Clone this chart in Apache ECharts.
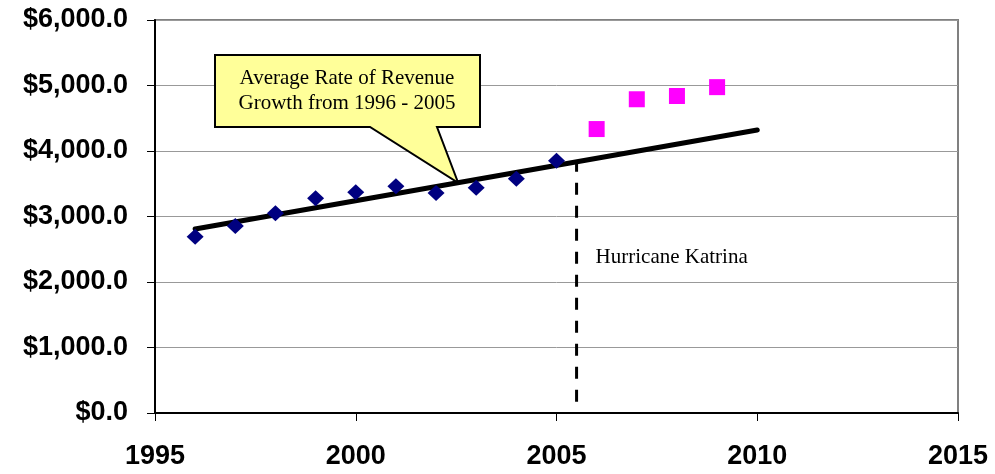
<!DOCTYPE html>
<html>
<head>
<meta charset="utf-8">
<script src="https://cdn.jsdelivr.net/npm/echarts@6/dist/echarts.min.js"></script>
<style>
  html, body { margin: 0; padding: 0; background: #fff; }
  #chart { width: 995px; height: 474px; }
</style>
</head>
<body>
<div id="chart"></div>
<script>
// actual revenue 1996 - 2005
const actualYears = [1996, 1997, 1998, 1999, 2000, 2001, 2002, 2003, 2004, 2005]
const actualValues = [2690, 2855, 3050, 3280, 3370, 3460, 3360, 3440, 3575, 3850]

// after Katrina
const postYears = [2006, 2007, 2008, 2009]
const postValues = [4335, 4790, 4840, 4975]

// average growth trend line
const trendYears = [1996, 2010]
const trendValues = [2810, 4320]

// hurricane marker
const katrinaYear = 2005.5
const katrinaBottom = 170
const katrinaTop = 3835
const calloutYear = 2002.55
const calloutValue = 3515

const chart = echarts.init(document.getElementById('chart'))

const option = {
  animation: false,
  grid: {
    left: 155, right: 37, top: 20, bottom: 61,
    show: true, borderColor: '#808080', borderWidth: 2
  },
  xAxis: {
    type: 'value',
    min: 1995, max: 2015, interval: 5,
    axisLine: { lineStyle: { color: '#000', width: 2 } },
    axisTick: { show: true, length: 8, lineStyle: { color: '#000', width: 1 } },
    splitLine: { show: false },
    axisLabel: {
      color: '#000', fontFamily: 'Liberation Sans, Arial', fontWeight: 'bold',
      fontSize: 27, margin: 30,
      formatter: v => String(v)
    }
  },
  yAxis: {
    type: 'value',
    min: 0, max: 6000, interval: 1000,
    axisLine: { show: true, lineStyle: { color: '#000', width: 2 } },
    axisTick: { show: true, length: 8, lineStyle: { color: '#000', width: 1 } },
    splitLine: { lineStyle: { color: '#999', width: 1 } },
    axisLabel: {
      color: '#000', fontFamily: 'Liberation Sans, Arial', fontWeight: 'bold',
      fontSize: 27, margin: 27,
      formatter: v => '$' + v.toLocaleString('en-US') + '.0'
    }
  },
  series: [
    {
      type: 'line',
      data: trendYears.map((y, i) => [y, trendValues[i]]),
      symbol: 'none',
      lineStyle: { color: '#000', width: 5, cap: 'round' },
      z: 3
    },
    {
      type: 'line',
      data: [[katrinaYear, katrinaBottom], [katrinaYear, katrinaTop]],
      symbol: 'none',
      lineStyle: { color: '#000', width: 3, type: [12, 11] },
      z: 2
    },
    {
      type: 'scatter',
      data: actualYears.map((y, i) => [y, actualValues[i]]),
      symbol: 'diamond',
      symbolSize: [17, 16],
      itemStyle: { color: '#000080', opacity: 1 },
      z: 4
    },
    {
      type: 'scatter',
      data: postYears.map((y, i) => [y, postValues[i]]),
      symbol: 'rect',
      symbolSize: 16,
      itemStyle: { color: '#ff00ff', opacity: 1 },
      z: 4
    }
  ]
}
chart.setOption(option)

// callout box pointing at the trend line, and the Katrina label
const tip = chart.convertToPixel({ gridIndex: 0 }, [calloutYear, calloutValue])
const kat = chart.convertToPixel({ gridIndex: 0 }, [katrinaYear, 1000])
chart.setOption({
  graphic: [
    {
      type: 'polygon',
      z: 10,
      shape: {
        points: [[215, 55], [480, 55], [480, 127], [437, 127], tip, [370, 127], [215, 127]]
      },
      style: { fill: '#ffff99', stroke: '#000', lineWidth: 2 }
    },
    {
      type: 'text',
      z: 11,
      x: 347, y: 91,
      style: {
        text: 'Average Rate of Revenue\nGrowth from 1996 - 2005',
        font: '21px "Liberation Serif", "Times New Roman", serif',
        fill: '#000', align: 'center', verticalAlign: 'middle', lineHeight: 25
      }
    },
    {
      type: 'text',
      z: 11,
      x: kat[0] + 19, y: 257,
      style: {
        text: 'Hurricane Katrina',
        font: '21px "Liberation Serif", "Times New Roman", serif',
        fill: '#000', align: 'left', verticalAlign: 'middle'
      }
    }
  ]
})
</script>
</body>
</html>
